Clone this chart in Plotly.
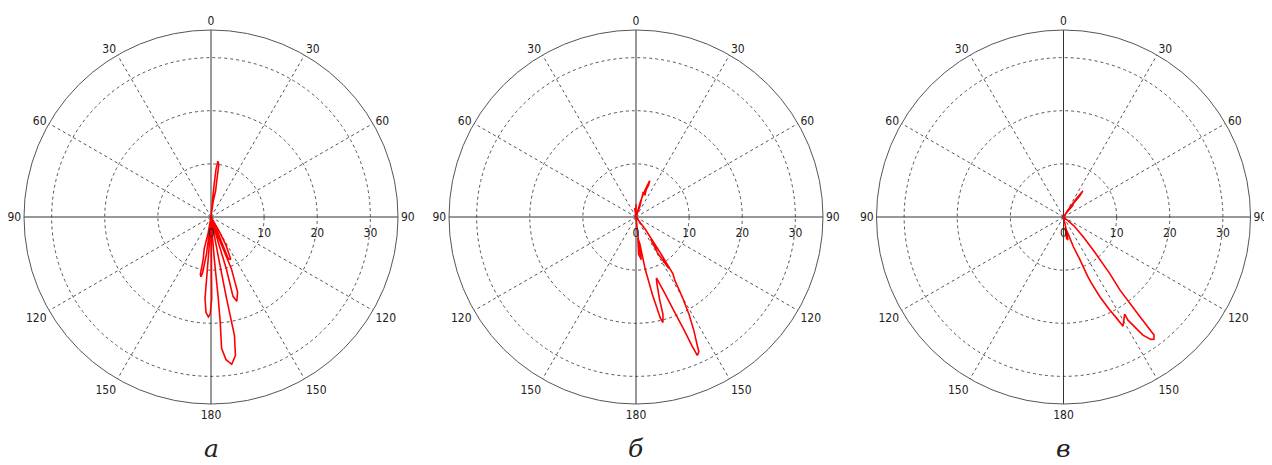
import plotly.graph_objects as go

# ---------------- data ----------------
R_MAX = 35.2
RADIAL_TICKS = [0, 10, 20, 30]
ANGLE_TICKS = [0, 30, 60, 90, 120, 150, 180, 210, 240, 270, 300, 330]
ANGLE_LABELS = ["0", "30", "60", "90", "120", "150", "180", "150", "120", "90", "60", "30"]
SOLID_SPOKES = [0, 90]          # drawn as full diameters (0-180, 90-270)
DASHED_SPOKES = [30, 60, 120, 150, 210, 240, 300, 330]
PANEL_LABELS = ["а", "б", "в"]

# panel а
theta_a = [0, 5, 5.5, 6, 7, 8.5, 9, 10, 8, 0,
           150, 152, 155, 157.5, 157, 155, 0,
           160, 158.5, 160.5, 163, 164.5, 163.5, 164, 0,
           170, 169.5, 169.2, 168.8, 170, 172, 174, 175.4, 175, 174.9, 175.5, 176, 0,
           179, 179.5, 179.5, 180.5, 181.5, 183, 184.2, 184, 183, 0,
           186, 187, 188.5, 189.5, 190.5, 190.5, 192, 190, 0]
r_a = [0, 3, 6, 9, 10.6, 10, 7, 5, 3, 0,
       3, 6, 8.8, 8.5, 5, 2, 0,
       4, 10.5, 15, 16.6, 15.5, 10.2, 5, 0,
       3, 8, 15.7, 22.7, 26.5, 28, 27, 24.8, 20, 15.4, 8, 3, 0,
       3, 10, 15.4, 18.3, 18.8, 18, 15.4, 10, 4, 0,
       3, 7, 10.5, 11.4, 11, 8, 6.2, 3, 0]

# panel б
theta_b = [0, 0, 0, 352, 0,
           16, 18, 20.7, 21.5, 19, 20.2, 22, 16.3, 20, 0,
           174, 173, 176, 175, 172, 170, 168, 166.5, 165.7, 164.5, 164, 162.5, 161.5,
           159.5, 158, 157, 156.5, 156.1, 155, 154.5, 153, 151.5, 150, 148.5, 146.9,
           145.8, 146.5, 149, 147.5, 146, 143, 0]
r_b = [0, 2.4, 0, 1.7, 0,
       3, 5, 7.3, 6.5, 4.5, 5.8, 4.5, 4.7, 2, 0,
       5, 8.1, 7, 4, 5, 10, 15, 19.5, 20.5, 19, 16, 13, 12.1,
       15, 19, 23, 26.5, 28.5, 28, 26.8, 24, 21, 17.5, 14, 12.7,
       8, 5, 8, 11.5, 9, 3, 0]

# panel в
theta_c = [0, 33, 35, 36.6, 37.5, 36, 39, 37, 0,
           168, 169.5, 172, 170, 165, 161.6, 159, 157.8, 157.1, 155.5, 153.6, 152.3, 151.4,
           147.8, 148, 146.1, 144.5, 143.5, 142.5, 142.5, 142.3, 140.7, 138.5, 135, 130, 0]
r_c = [0, 2, 4.2, 6.1, 5, 3.1, 2.8, 1.5, 0,
       3, 4.4, 4, 2, 3.2, 5.9, 8.5, 12, 13.5, 16.5, 19.5, 21.5, 23.4,
       21.6, 22.9, 26.8, 28.3, 28.6, 28, 23.6, 17.4, 13.7, 9, 5.3, 2.5, 0]

SERIES = [(theta_a, r_a), (theta_b, r_b), (theta_c, r_c)]

# ---------------- layout geometry ----------------
# the page body has an 8px margin, so the figure is 8px smaller and
# all positions are expressed in figure coordinates (page - 8)
OFF = 8
W, H = 1272 - OFF, 465 - OFF
CENTERS_X = [211 - OFF, 636 - OFF, 1063.5 - OFF]
CENTER_Y = 217 - OFF
RADIUS_PX = 187

fig = go.Figure()

AX_COLOR = "#333333"
GRID_COLOR = "#555555"
TICK_FONT = dict(family="DejaVu Sans Condensed, DejaVu Sans, sans-serif", size=12, color="#222222")

for i, (th, rr) in enumerate(SERIES):
    sub = "polar" if i == 0 else f"polar{i + 1}"
    # dashed spokes
    for a in DASHED_SPOKES:
        fig.add_trace(go.Scatterpolar(
            r=[0, R_MAX], theta=[a, a], mode="lines",
            line=dict(color=GRID_COLOR, width=1, dash="3px,3px"),
            subplot=sub, showlegend=False, hoverinfo="skip"))
    # solid crosshair axes
    for a in SOLID_SPOKES:
        fig.add_trace(go.Scatterpolar(
            r=[R_MAX, 0, R_MAX], theta=[a, a, a + 180], mode="lines",
            line=dict(color=AX_COLOR, width=1), subplot=sub, showlegend=False, hoverinfo="skip"))
    # data curve
    fig.add_trace(go.Scatterpolar(
        r=rr, theta=th, mode="lines",
        line=dict(color="#ff0000", width=1.6), subplot=sub, showlegend=False))

    cx = CENTERS_X[i]
    polar_cfg = dict(
        domain=dict(x=[(cx - RADIUS_PX) / W, (cx + RADIUS_PX) / W],
                    y=[1 - (CENTER_Y + RADIUS_PX) / H, 1 - (CENTER_Y - RADIUS_PX) / H]),
        bgcolor="white",
        radialaxis=dict(range=[0, R_MAX], tickvals=RADIAL_TICKS,
                        ticktext=[str(v) for v in RADIAL_TICKS],
                        angle=0, side="clockwise", tickangle=0,
                        showline=False, ticks="outside", ticklen=5,
                        tickcolor="rgba(0,0,0,0)", tickfont=TICK_FONT,
                        showgrid=True, gridcolor=GRID_COLOR, griddash="3px,3px", gridwidth=1),
        angularaxis=dict(rotation=90, direction="clockwise",
                         tickvals=ANGLE_TICKS, ticktext=ANGLE_LABELS,
                         ticks="", tickfont=TICK_FONT,
                         showline=True, linecolor="#555555", linewidth=1,
                         showgrid=False),
    )
    fig.update_layout(**{sub: polar_cfg})
    fig.add_annotation(
        text=f"<i>{PANEL_LABELS[i]}</i>", x=cx / W, y=0,
        xref="paper", yref="paper", xanchor="center", yanchor="bottom",
        showarrow=False, font=dict(family="DejaVu Serif, serif", size=25, color="#222222"))

fig.update_layout(width=W, height=H, margin=dict(l=0, r=0, t=0, b=0),
                  paper_bgcolor="white", plot_bgcolor="white", showlegend=False)

fig.write_html("out.html")
